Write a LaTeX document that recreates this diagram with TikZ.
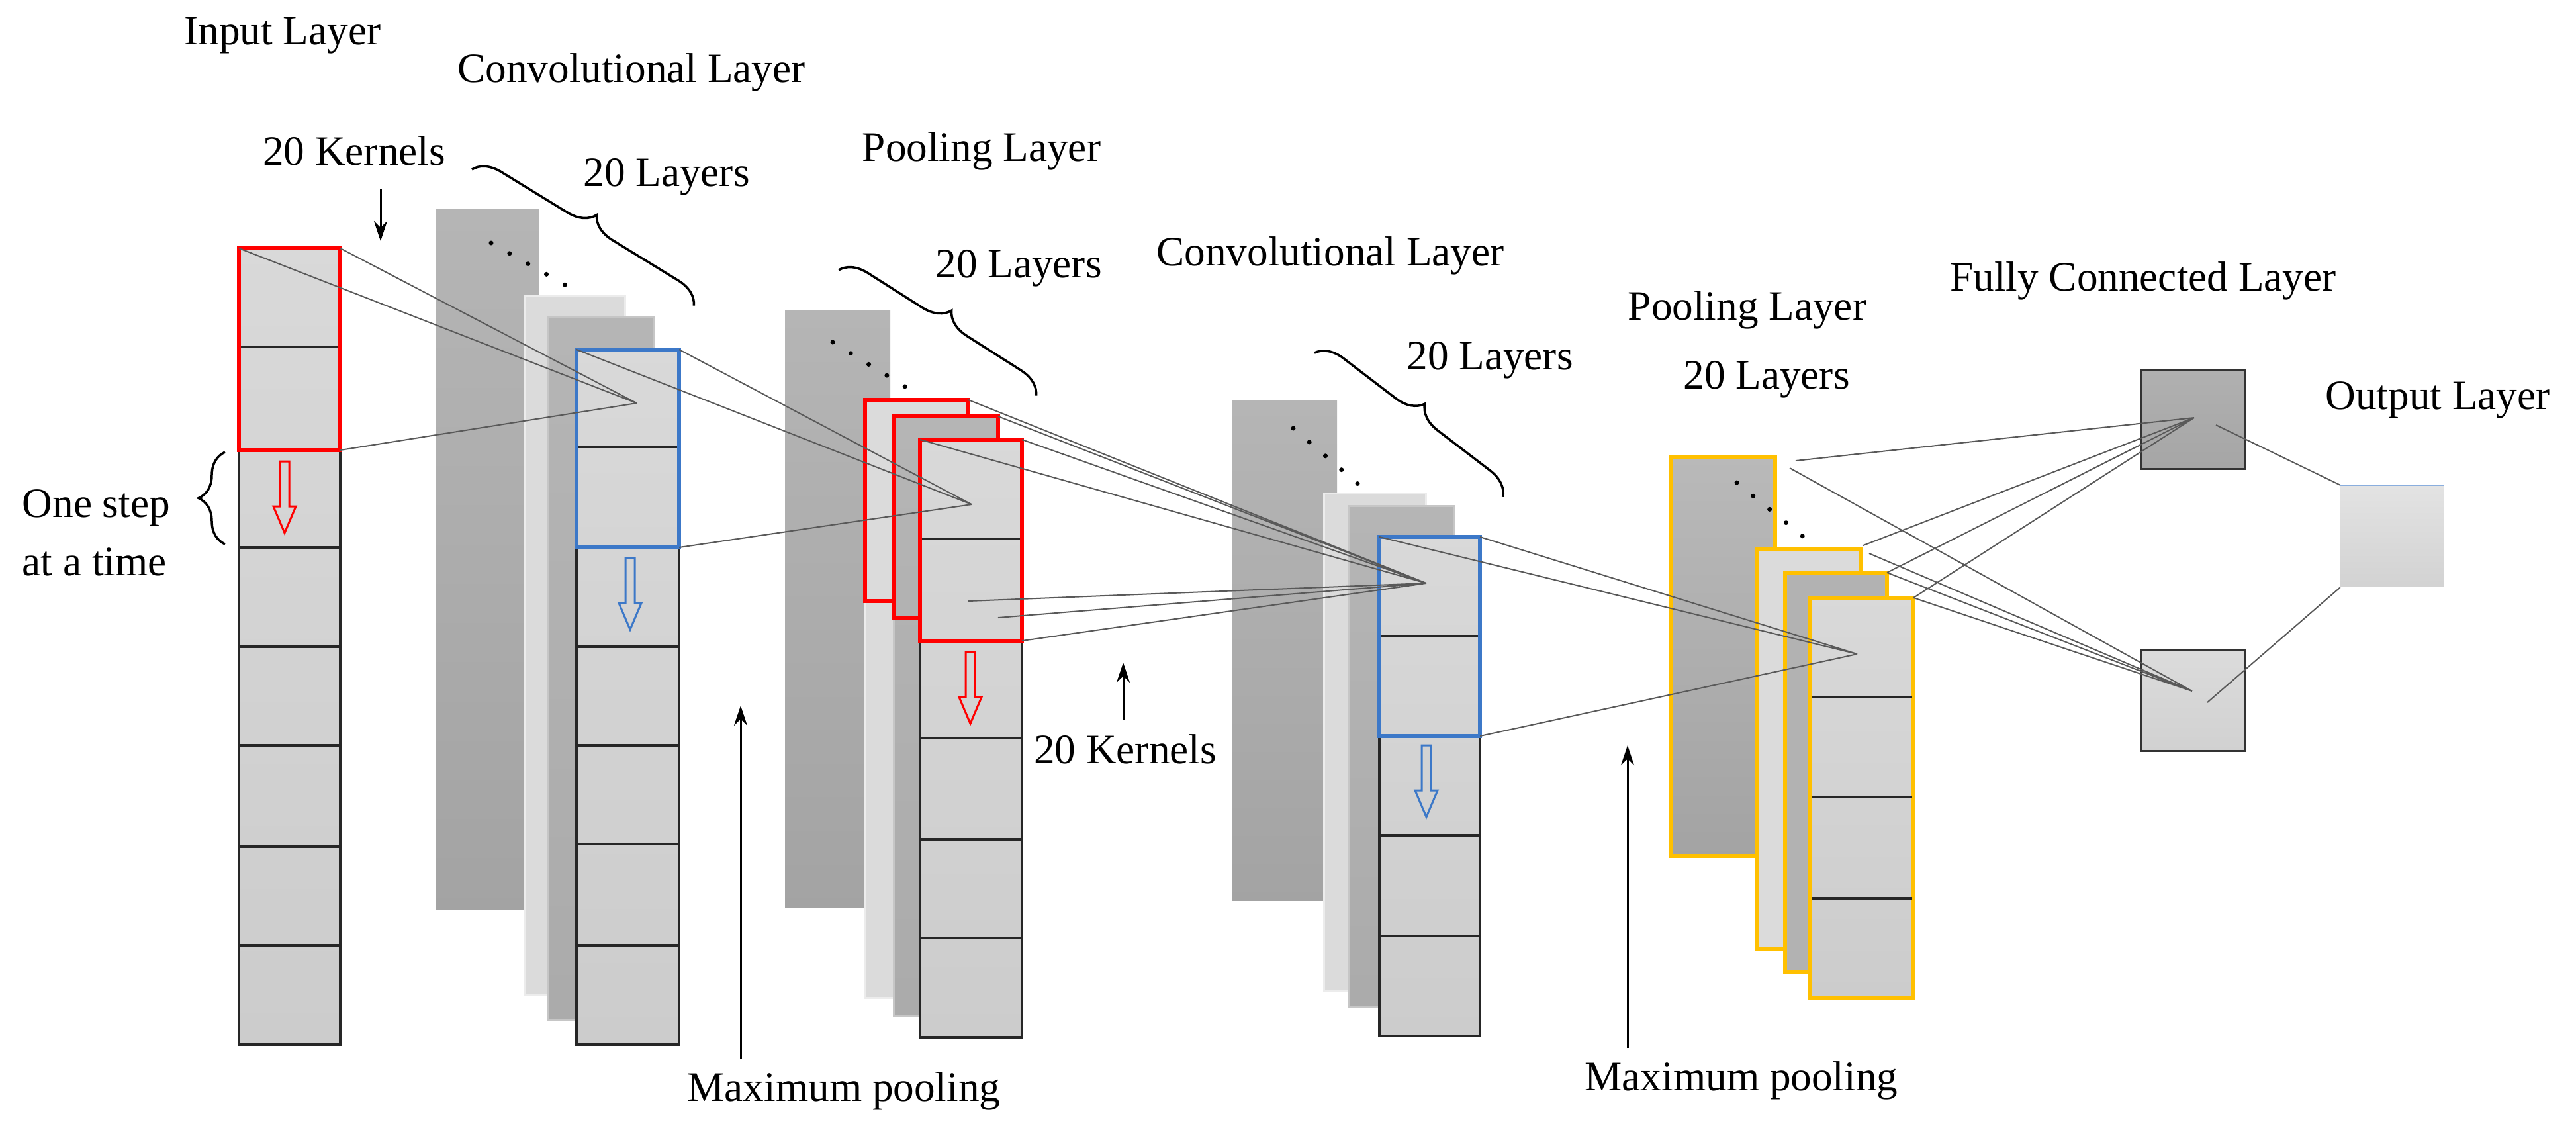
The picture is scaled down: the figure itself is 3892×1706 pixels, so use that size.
\documentclass[tikz,border=0pt]{standalone}
\usepackage{fontspec}
\setmainfont{Liberation Serif}
\usetikzlibrary{decorations.pathreplacing,arrows.meta}
\definecolor{myblue}{HTML}{3C78C8}
\definecolor{myyel}{HTML}{FFC000}
\newcommand\hollowarr[3]{\draw[#3,line width=0.3mm] (#1-7,#2) -- (#1+7,#2) -- (#1+7,#2+68) -- (#1+17,#2+68) -- (#1,#2+108) -- (#1-17,#2+68) -- (#1-7,#2+68) -- cycle;}
\begin{document}
\begin{tikzpicture}[x=0.1mm,y=-0.1mm,
 lbl/.style={font=\fontsize{18}{20}\selectfont, inner sep=0},
 conn/.style={draw=black!65, line width=0.2mm},
 sheetD/.style={top color=gray!58,bottom color=gray!72,draw=none},
 sheetL/.style={fill=gray!28,draw=gray!15,line width=0.3mm},
 sheetM/.style={top color=gray!58,bottom color=gray!66,draw=gray!45,line width=0.3mm},
 cell/.style={top color=gray!30,bottom color=gray!40,draw=black!85,line width=0.35mm},
 div/.style={draw=black!85,line width=0.35mm},
 redb/.style={draw=red,line width=0.6mm},
 blueb/.style={draw=myblue,line width=0.6mm},
 yelb/.style={draw=myyel,line width=0.6mm},
 dots/.style={line width=0.7mm,line cap=round,dash pattern=on 0pt off 3.2mm},
 brc/.style={decorate,decoration={brace,amplitude=4mm},line width=0.35mm},
 arr/.style={-{Stealth[length=3mm,width=2mm]},line width=0.3mm}]
\useasboundingbox (0,0) rectangle (3892,1706);
% ---------- labels
\node[lbl] (tIn) at (427,54) {Input Layer};
\node[lbl] (tC1) at (954,109) {Convolutional Layer};
\node[lbl] (tK1) at (535,228) {20 Kernels};
\node[lbl] (tL1) at (1007,267) {20 Layers};
\node[lbl,anchor=west] (tS1) at (33,767) {One step};
\node[lbl,anchor=west] (tS2) at (33,849) {at a time};
\node[lbl] (tP1) at (1483,228) {Pooling Layer};
\node[lbl] (tL2) at (1539,405) {20 Layers};
\node[lbl] (tK2) at (1700,1132) {20 Kernels};
\node[lbl] (tC2) at (2010,386) {Convolutional Layer};
\node[lbl] (tL3) at (2251,544) {20 Layers};
\node[lbl] (tP2) at (2640,468) {Pooling Layer};
\node[lbl] (tL4) at (2669,573) {20 Layers};
\node[lbl] (tFC) at (3238,424) {Fully Connected Layer};
\node[lbl] (tOut) at (3683,604) {Output Layer};
\node[lbl] (tM1) at (1275,1648) {Maximum pooling};
\node[lbl] (tM2) at (2631,1632) {Maximum pooling};
% ---------- input layer
\draw[cell] (361,375) rectangle (514,1578);
\foreach \y in {524,680,827,977,1126,1279,1428} \draw[div] (361,\y) -- (514,\y);
\draw[redb] (361,375) coordinate (r0tl) rectangle (514,680) coordinate (r0br);
\coordinate (r0tr) at (514,375);
\hollowarr{430}{697}{red}
\draw[brc] (340,822) -- (340,683);
\coordinate (k1a) at (575,285); \coordinate (k1b) at (575,364);
\draw[arr] (k1a) -- (k1b);
% ---------- conv 1
\draw[sheetD] (658,316) rectangle (814,1373);
\draw[dots] (742,367) -- (862,435);
\draw[sheetL] (792,446) rectangle (944,1502);
\draw[sheetM] (828,479) rectangle (987,1540);
\draw[cell] (871,528) rectangle (1026,1578);
\foreach \y in {675,827,977,1126,1275,1428} \draw[div] (871,\y) -- (1026,\y);
\draw[blueb] (871,528) coordinate (b1tl) rectangle (1026,827) coordinate (b1br);
\coordinate (b1tr) at (1026,528);
\hollowarr{952}{843}{myblue}
\draw[brc] (713,256) -- (1049,462);
\coordinate (tip1) at (962,609);
\draw[conn] (r0tl) -- (tip1) (r0tr) -- (tip1) (r0br) -- (tip1);
\coordinate (m1a) at (1119,1600); \coordinate (m1b) at (1119,1066);
\draw[arr] (m1a) -- (m1b);
% ---------- pool 1
\draw[sheetD] (1186,468) rectangle (1345,1371);
\draw[dots] (1258,517) -- (1374,588);
\draw[sheetL] (1307,604) rectangle (1463,1507);
\draw[redb] (1307,604) coordinate (ra1) rectangle (1463,908) coordinate (ra2);
\draw[sheetM] (1350,629) rectangle (1508,1534);
\draw[redb] (1350,629) coordinate (rb1) rectangle (1508,933) coordinate (rb2);
\draw[cell] (1390,664) rectangle (1544,1567);
\foreach \y in {814,968,1115,1268,1417} \draw[div] (1390,\y) -- (1544,\y);
\draw[redb] (1390,664) coordinate (rc1) rectangle (1544,968) coordinate (rc2);
\coordinate (ra3) at (1463,604); \coordinate (rb3) at (1508,629); \coordinate (rc3) at (1544,664);
\hollowarr{1466}{985}{red}
\draw[brc] (1267,408) -- (1566,598);
\coordinate (tip2) at (1468,762);
\draw[conn] (b1tl) -- (tip2) (b1tr) -- (tip2) (b1br) -- (tip2);
\coordinate (k2a) at (1697,1088); \coordinate (k2b) at (1697,1001);
\draw[arr] (k2a) -- (k2b);
% ---------- conv 2
\draw[sheetD] (1861,604) rectangle (2020,1360);
\draw[dots] (1954,647) -- (2062,740);
\draw[sheetL] (2000,745) rectangle (2154,1496);
\draw[sheetM] (2037,764) rectangle (2196,1521);
\draw[cell] (2084,811) rectangle (2236,1565);
\foreach \y in {961,1112,1262,1414} \draw[div] (2084,\y) -- (2236,\y);
\draw[blueb] (2084,811) coordinate (b2tl) rectangle (2236,1112) coordinate (b2br);
\coordinate (b2tr) at (2236,811);
\hollowarr{2155}{1126}{myblue}
\draw[brc] (1986,533) -- (2271,751);
\coordinate (tip3) at (2155,881);
\draw[conn] (ra3) -- (tip3) (rb3) -- (tip3) (rc3) -- (tip3) (rc1) -- (tip3)
  (ra2) -- (tip3) (rb2) -- (tip3) (rc2) -- (tip3);
\coordinate (m2a) at (2459,1583); \coordinate (m2b) at (2459,1126);
\draw[arr] (m2a) -- (m2b);
% ---------- pool 2
\draw[yelb,top color=gray!55,bottom color=gray!72] (2525,691) rectangle (2682,1293);
\draw[dots] (2624,729) -- (2731,816);
\draw[yelb,fill=gray!28] (2655,829) rectangle (2811,1434);
\draw[yelb,fill=gray!60] (2697,865) rectangle (2851,1469);
\draw[yelb,top color=gray!30,bottom color=gray!40] (2735,903) rectangle (2891,1507);
\foreach \y in {1053,1204,1357} \draw[div] (2737,\y) -- (2889,\y);
\coordinate (tip4) at (2806,988);
\draw[conn] (b2tl) -- (tip4) (b2tr) -- (tip4) (b2br) -- (tip4);
% ---------- fully connected / output
\node[draw=black!80,line width=0.35mm,top color=gray!62,bottom color=gray!70,minimum width=15.7mm,minimum height=14.9mm,inner sep=0] (fc1) at (3313,634) {};
\node[draw=black!80,line width=0.35mm,top color=gray!28,bottom color=gray!36,minimum width=15.7mm,minimum height=15.3mm,inner sep=0] (fc2) at (3313,1058) {};
\node[top color=gray!22,bottom color=gray!35,minimum width=15.5mm,minimum height=15.3mm,inner sep=0] (out) at (3614,810) {};
\draw[myblue!60,line width=0.2mm] (out.north west) -- (out.north east);
\coordinate (f1t) at (3315,631); \coordinate (f2t) at (3312,1044);
\coordinate (p2a) at (2713,696); \coordinate (p2b) at (2704,707);
\coordinate (p2c) at (2815,824); \coordinate (p2d) at (2824,836);
\coordinate (p2e) at (2891,903); \coordinate (p2f) at (2851,865);
\draw[conn] (p2a) -- (f1t) (p2c) -- (f1t) (p2e) -- (f1t) (p2f) -- (f1t)
  (p2b) -- (f2t) (p2d) -- (f2t) (p2f) -- (f2t) (p2e) -- (f2t);
\coordinate (f1o) at (3348,642); \coordinate (f2o) at (3335,1061);
\draw[conn] (f1o) -- (out.north west) (f2o) -- (out.south west);
\end{tikzpicture}
\end{document}
